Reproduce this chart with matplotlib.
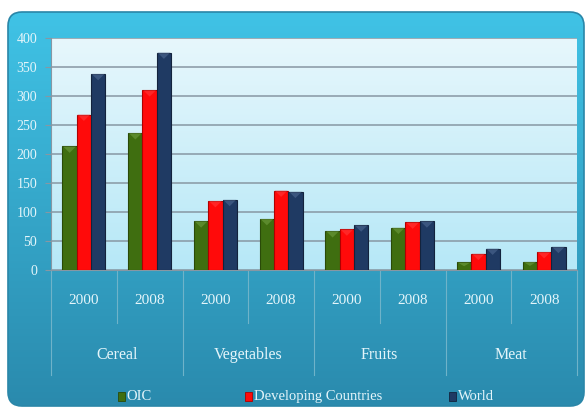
import numpy as np
import matplotlib
matplotlib.use('Agg')
from matplotlib import pyplot as plt
from matplotlib.patches import FancyBboxPatch, Rectangle, Polygon
from matplotlib.colors import to_rgb
from matplotlib.transforms import blended_transform_factory

categories = ['Cereal', 'Vegetables', 'Fruits', 'Meat']
years = ['2000', '2008']
series = ['OIC', 'Developing Countries', 'World']
oic = [213, 236, 84, 88, 67, 73, 13, 14]
developing = [268, 310, 119, 137, 70, 82, 28, 31]
world = [338, 375, 121, 135, 77, 84, 37, 40]
yticks = [0, 50, 100, 150, 200, 250, 300, 350, 400]

colors = ['#3f6e10', '#ff0a0a', '#1f3a63']
edges = ['#2a4a08', '#b00000', '#13233d']
txt = '#e4f5fa'
font = dict(fontfamily='Liberation Serif')


def vgrad(top, bottom, n=256):
    t = np.linspace(0, 1, n)[:, None]
    a, b = np.array(to_rgb(top)), np.array(to_rgb(bottom))
    return (a + (b - a) * t)[:, None, :].repeat(2, axis=1)


fig = plt.figure(figsize=(5.86, 4.08), dpi=100)
fig.patch.set_facecolor('white')

# outer rounded panel
bg = fig.add_axes([0, 0, 1, 1])
bg.set_xlim(0, 586)
bg.set_ylim(408, 0)
bg.axis('off')
panel = FancyBboxPatch((8, 12), 576, 394, boxstyle='round,pad=0,rounding_size=14',
                       facecolor='none', edgecolor='#2a86a8', linewidth=1.2)
bg.add_patch(panel)
im = bg.imshow(vgrad('#40c3e6', '#2a8aad'), extent=(8, 584, 406, 12), aspect='auto', zorder=0)
im.set_clip_path(panel)

# plot area
ax = fig.add_axes([51 / 586, 1 - 270 / 408, 526 / 586, 232 / 408])
ax.imshow(vgrad('#e7f7fc', '#b6e8f7'), extent=(-0.5, 7.5, 0, 400), aspect='auto', zorder=0)
ax.set_xlim(-0.5, 7.5)
ax.set_ylim(0, 400)

x = np.arange(len(oic))
w = 0.217
for k, (vals, c, e) in enumerate(zip([oic, developing, world], colors, edges)):
    bars = ax.bar(x + (k - 1) * w, vals, w, color=c, edgecolor=e, linewidth=0.8, zorder=3)
    light = tuple(min(1, v + 0.22) for v in to_rgb(c))
    for b in bars:
        x0, x1, top = b.get_x(), b.get_x() + b.get_width(), b.get_height()
        h = min(11, top * 0.5)
        ax.add_patch(Polygon([(x0 + 0.01, top), (x1 - 0.01, top), (x0 + w / 2, top - h)],
                             closed=True, facecolor=light, edgecolor='none', alpha=0.5, zorder=4))

ax.set_yticks(yticks)
ax.set_yticklabels([str(v) for v in yticks], fontsize=10, color=txt, **font)
ax.set_xticks([])
ax.yaxis.grid(True, color='#8797a3', linewidth=1.1)
ax.set_axisbelow(True)
ax.tick_params(axis='y', length=4, color='#8797a3', pad=6)
for s in ['top', 'right']:
    ax.spines[s].set_visible(False)
ax.spines['left'].set_color('#8797a3')
ax.spines['bottom'].set_color('#8797a3')

# multi-level category axis
tr = blended_transform_factory(ax.transData, ax.transAxes)
for i in range(len(oic)):
    ax.text(i, -0.13, years[i % 2], transform=tr, ha='center', va='center',
            fontsize=11, color=txt, **font)
for j, cat in enumerate(categories):
    ax.text(2 * j + 0.5, -0.365, cat, transform=tr, ha='center', va='center',
            fontsize=11.5, color=txt, **font)
for i in range(len(oic) + 1):
    low = -0.453 if i % 2 == 0 else -0.23
    ax.plot([i - 0.5, i - 0.5], [0, low], transform=tr, color='#6fb3c9',
            linewidth=0.8, clip_on=False, zorder=1)

# legend
leg_x = [118, 245, 449]
for lx, name, c, e in zip(leg_x, series, colors, edges):
    bg.add_patch(Rectangle((lx, 392), 6.5, 9, facecolor=c, edgecolor=e, linewidth=0.6, zorder=5))
    bg.text(lx + 8.5, 396.5, name, ha='left', va='center', fontsize=10.5, color=txt,
            zorder=5, **font)

fig.savefig('out.png', dpi=100)
